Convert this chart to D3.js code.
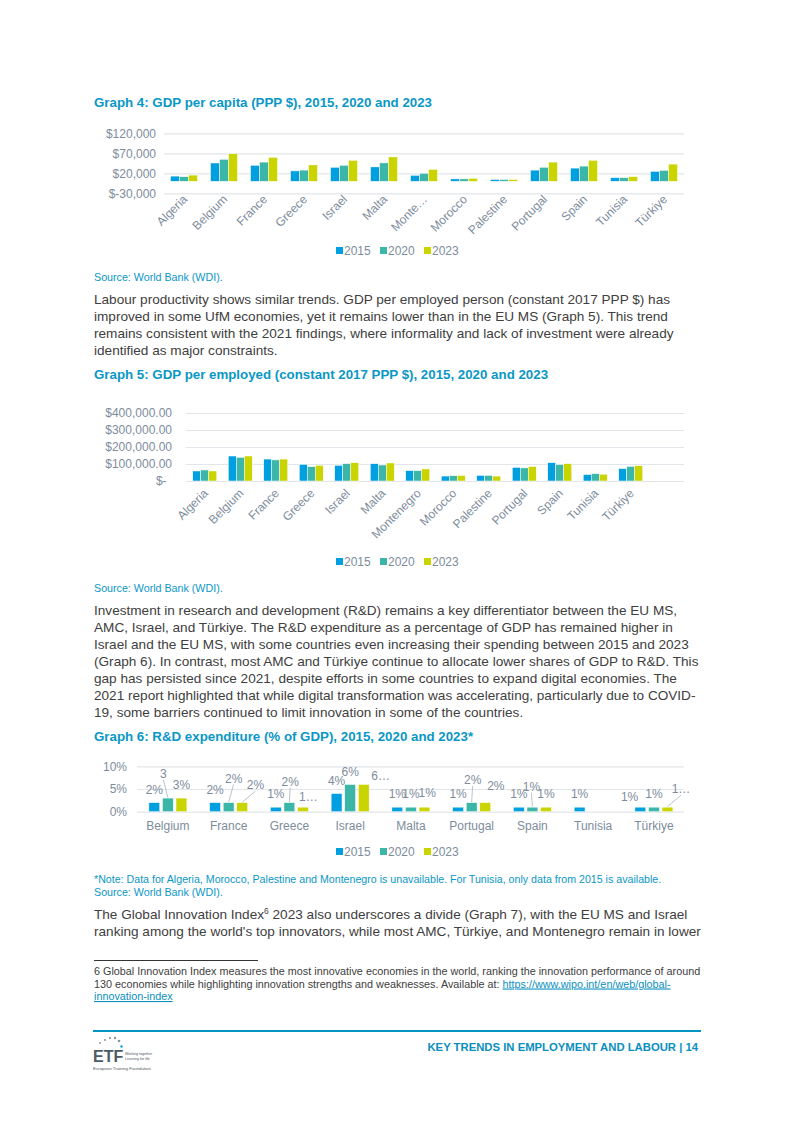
<!DOCTYPE html>
<html>
<head>
<meta charset="utf-8">
<script src="https://cdn.jsdelivr.net/npm/d3@7"></script>
<style>
  body { margin: 0; background: #fff; }
  svg { display: block; font-family: "Liberation Sans", Arial, sans-serif; }
</style>
</head>
<body>
<svg id="page" width="793" height="1121"></svg>
<script>
// ---- data ----
const years = ["2015", "2020", "2023"];
const colors = ["#009fdf", "#3bb6a9", "#c9d400"];

// Graph 4: GDP per capita (PPP $)
const g4Countries = ["Algeria", "Belgium", "France", "Greece", "Israel", "Malta", "Montenegro", "Morocco", "Palestine", "Portugal", "Spain", "Tunisia", "Türkiye"];
const g4Labels = ["Algeria", "Belgium", "France", "Greece", "Israel", "Malta", "Monte…", "Morocco", "Palestine", "Portugal", "Spain", "Tunisia", "Türkiye"];
const gdp2015 = [13000, 45800, 40000, 26000, 35000, 36000, 15000, 6000, 4500, 28000, 33000, 9000, 25000];
const gdp2020 = [11500, 55000, 48000, 28000, 40000, 46000, 20000, 6000, 4500, 35000, 38000, 9000, 27500];
const gdp2023 = [15500, 69000, 60000, 41000, 52500, 61000, 30000, 7500, 4500, 48000, 52500, 11700, 43000];
const g4Ticks = [-30000, 20000, 70000, 120000];

// Graph 5: GDP per employed (constant 2017 PPP $)
const g5Countries = ["Algeria", "Belgium", "France", "Greece", "Israel", "Malta", "Montenegro", "Morocco", "Palestine", "Portugal", "Spain", "Tunisia", "Türkiye"];
const emp2015 = [59000, 147000, 129000, 98000, 92000, 102000, 61000, 29000, 33000, 80000, 108000, 38000, 73000];
const emp2020 = [65000, 139000, 124000, 84000, 102000, 94000, 61000, 31000, 33000, 77000, 97000, 43000, 86000];
const emp2023 = [59000, 147000, 129000, 92000, 108000, 106000, 71000, 33000, 29000, 85000, 102000, 40000, 90000];
const g5Ticks = [0, 100000, 200000, 300000, 400000];

// Graph 6: R&D expenditure (% of GDP)
const rdCountries = ["Belgium", "France", "Greece", "Israel", "Malta", "Portugal", "Spain", "Tunisia", "Türkiye"];
const rd2015 = [2, 2, 1, 4, 1, 1, 1, 1, 1];
const rd2020 = [3, 2, 2, 6, 1, 2, 1, null, 1];
const rd2023 = [3, 2, 1, 6, 1, 2, 1, null, 1];
const rdTicks = [0, 5, 10];

// data label nudges for graph 6 (excel "best fit" placement): country, series, dx, dy, text, leader
const rdLabelMoves = [
  ["Belgium", 1, -4.5, -24.4, "3", true],
  ["France", 1, 5, -24.3, null, true],
  ["France", 2, 13.3, -17.6, null, true],
  ["Greece", 1, 0.8, -21, null, true],
  ["Greece", 2, 5.5, -10, "1…", false],
  ["Israel", 2, 17, -9, "6…", false],
  ["Malta", 2, 2.7, -14, null, false],
  ["Portugal", 1, 1, -22.6, null, true],
  ["Portugal", 2, 10.6, -16.6, null, false],
  ["Spain", 1, -1, -20.5, null, true],
  ["Türkiye", 0, -10.8, -10.5, null, false],
  ["Türkiye", 2, 13.5, -18, "1…", true]
];

// ---- page text ----
const para1 = [
  "Labour productivity shows similar trends. GDP per employed person (constant 2017 PPP $) has",
  "improved in some UfM economies, yet it remains lower than in the EU MS (Graph 5). This trend",
  "remains consistent with the 2021 findings, where informality and lack of investment were already",
  "identified as major constraints."
];
const para2 = [
  "Investment in research and development (R&D) remains a key differentiator between the EU MS,",
  "AMC, Israel, and Türkiye. The R&D expenditure as a percentage of GDP has remained higher in",
  "Israel and the EU MS, with some countries even increasing their spending between 2015 and 2023",
  "(Graph 6). In contrast, most AMC and Türkiye continue to allocate lower shares of GDP to R&D. This",
  "gap has persisted since 2021, despite efforts in some countries to expand digital economies. The",
  "2021 report highlighted that while digital transformation was accelerating, particularly due to COVID-",
  "19, some barriers continued to limit innovation in some of the countries."
];

const svg = d3.select("#page");
const textCol = "#404040";
const blue = "#0a97c6";
const axisCol = "#7d8c9c";
const gridCol = "#e2e6ea";
const bodySize = 13.6;

function line(txt, x, y, size, color, weight) {
  return svg.append("text").attr("x", x).attr("y", y)
    .style("font-size", size + "px").attr("fill", color)
    .style("font-weight", weight || "normal").text(txt);
}

function legend(y) {
  const g = svg.append("g").attr("transform", `translate(336,${y})`);
  years.forEach((yr, i) => {
    const e = g.append("g").attr("transform", `translate(${i * 44},0)`);
    e.append("rect").attr("x", 0).attr("y", -4).attr("width", 7).attr("height", 7).attr("fill", colors[i]);
    e.append("text").attr("x", 8).attr("y", 4).style("font-size", "12px").attr("fill", axisCol).text(yr);
  });
}

// grouped bar chart used by all three graphs
function barChart(o) {
  const x = d3.scaleBand().domain(o.cats).range([o.x0, o.x1]);
  const sub = d3.scaleBand().domain([0, 1, 2]).range([0, o.groupW]).paddingInner(o.inner || 0);
  const y = d3.scaleLinear().domain(o.domain).range([o.yBottom, o.yTop]);

  const ax = svg.append("g").attr("transform", `translate(${o.gridL},0)`)
    .call(d3.axisLeft(y).tickValues(o.ticks).tickSize(-(o.gridR - o.gridL)).tickPadding(o.pad).tickFormat(o.fmt));
  ax.select(".domain").remove();
  ax.selectAll("line").attr("stroke", gridCol).attr("stroke-width", 1.2);
  ax.selectAll("text").attr("fill", axisCol).style("font-size", "12px").style("font-family", "Liberation Sans, Arial, sans-serif");
  if (o.tweak) o.tweak(ax);

  const g = svg.append("g");
  o.series.forEach((vals, s) => {
    g.selectAll(null).data(o.cats.map((c, i) => ({ c, v: vals[i] })).filter(d => d.v != null))
      .enter().append("rect")
      .attr("x", d => x(d.c) + (x.bandwidth() - o.groupW) / 2 + sub(s))
      .attr("width", sub.bandwidth())
      .attr("y", d => y(Math.max(0, d.v)))
      .attr("height", d => Math.abs(y(d.v) - y(0)))
      .attr("fill", colors[s])
      .attr("stroke", "#fff").attr("stroke-width", 0.5);
  });
  return { x, sub, y };
}

// ---- Graph 4 ----
line("Graph 4: GDP per capita (PPP $), 2015, 2020 and 2023", 94, 106.5, 13.3, blue, "bold");
const c4 = barChart({
  cats: g4Countries, series: [gdp2015, gdp2020, gdp2023],
  x0: 164, x1: 684, groupW: 27, gridL: 164, gridR: 684,
  domain: [-30000, 120000], yBottom: 193.3, yTop: 133.3,
  ticks: g4Ticks, pad: 8, fmt: d => d < 0 ? "$-" + d3.format(",")(-d) : "$" + d3.format(",")(d)
});
g4Countries.forEach((c, i) => {
  const cx = c4.x(c) + c4.x.bandwidth() / 2;
  svg.append("text").attr("text-anchor", "end")
    .attr("transform", `translate(${cx + 4},${200}) rotate(-45)`)
    .style("font-size", "12px").attr("fill", axisCol).text(g4Labels[i]);
});
legend(251);
line("Source: World Bank (WDI).", 94, 281, 10.7, blue);
para1.forEach((t, i) => line(t, 94, 304 + i * 17, bodySize, textCol));

// ---- Graph 5 ----
line("Graph 5: GDP per employed (constant 2017 PPP $), 2015, 2020 and 2023", 94, 378.5, 13.3, blue, "bold");
const band5 = (684 - 187) / 14;
const c5 = barChart({
  cats: g5Countries, series: [emp2015, emp2020, emp2023],
  x0: 187, x1: 187 + 13 * band5, groupW: 24, gridL: 186, gridR: 684,
  domain: [0, 400000], yBottom: 481, yTop: 413,
  ticks: g5Ticks, pad: 14, fmt: d => d === 0 ? "$-" : "$" + d3.format(",.2f")(d),
  tweak: ax => ax.selectAll(".tick").filter(d => d === 0).select("text").attr("dx", "-0.45em")
});
g5Countries.forEach(c => {
  const cx = c5.x(c) + c5.x.bandwidth() / 2;
  svg.append("text").attr("text-anchor", "end")
    .attr("transform", `translate(${cx + 4},${494}) rotate(-45)`)
    .style("font-size", "12px").attr("fill", axisCol).text(c);
});
legend(562);
line("Source: World Bank (WDI).", 94, 592, 10.7, blue);
para2.forEach((t, i) => line(t, 94, 615 + i * 17, bodySize, textCol));

// ---- Graph 6 ----
line("Graph 6: R&D expenditure (% of GDP), 2015, 2020 and 2023*", 94, 740.5, 13.3, blue, "bold");
const rdSeries = [rd2015, rd2020, rd2023];
const c6 = barChart({
  cats: rdCountries, series: rdSeries,
  x0: 137.5, x1: 684.3, groupW: 38, inner: 0.2, gridL: 137, gridR: 684,
  domain: [0, 10], yBottom: 811.7, yTop: 766.3,
  ticks: rdTicks, pad: 10, fmt: d => d + "%"
});
rdCountries.forEach(c => {
  const cx = c6.x(c) + c6.x.bandwidth() / 2;
  svg.append("text").attr("text-anchor", "middle").attr("x", cx).attr("y", 830)
    .style("font-size", "12px").attr("fill", axisCol).text(c);
});
const lbl = svg.append("g");
rdSeries.forEach((vals, s) => {
  rdCountries.forEach((c, i) => {
    const v = vals[i];
    if (v == null) return;
    const bx = c6.x(c) + (c6.x.bandwidth() - 38) / 2 + c6.sub(s) + c6.sub.bandwidth() / 2;
    const top = c6.y(v);
    const mv = rdLabelMoves.find(m => m[0] === c && m[1] === s);
    const dx = mv ? mv[2] : 0, dy = mv ? mv[3] : -13;
    const lx = bx + dx, ly = top + dy;
    if (mv && mv[5]) {
      lbl.append("line").attr("x1", lx).attr("y1", ly + 6).attr("x2", bx).attr("y2", top - 0.5)
        .attr("stroke", "#aab4be").attr("stroke-width", 0.8);
    }
    lbl.append("text").attr("x", lx).attr("y", ly + 4.3).attr("text-anchor", "middle")
      .style("font-size", "12px").attr("fill", axisCol)
      .text(mv && mv[4] ? mv[4] : v + "%");
  });
});
legend(852);
line("*Note: Data for Algeria, Morocco, Palestine and Montenegro is unavailable. For Tunisia, only data from 2015 is available.", 94, 882.5, 10.65, blue);
line("Source: World Bank (WDI).", 94, 895.5, 10.7, blue);

const p3 = line("The Global Innovation Index", 94, 919, bodySize, textCol);
p3.append("tspan").attr("dy", -5).style("font-size", "8.5px").text("6");
p3.append("tspan").attr("dy", 5).text(" 2023 also underscores a divide (Graph 7), with the EU MS and Israel");
line("ranking among the world's top innovators, while most AMC, Türkiye, and Montenegro remain in lower", 94, 936, bodySize, textCol);

// footnote
svg.append("line").attr("x1", 94).attr("x2", 258).attr("y1", 960.5).attr("y2", 960.5).attr("stroke", "#000").attr("stroke-width", 0.8);
line("6 Global Innovation Index measures the most innovative economies in the world, ranking the innovation performance of around", 94, 975, 10.8, textCol);
const fn2 = line("130 economies while highlighting innovation strengths and weaknesses. Available at: ", 94, 987.5, 10.8, textCol);
fn2.append("tspan").attr("fill", "#0a8fc0").style("text-decoration", "underline").text("https://www.wipo.int/en/web/global-");
line("innovation-index", 94, 1000, 10.8, "#0a8fc0").style("text-decoration", "underline");

// footer
svg.append("line").attr("x1", 93).attr("x2", 701).attr("y1", 1031).attr("y2", 1031).attr("stroke", "#0095c2").attr("stroke-width", 2);
line("KEY TRENDS IN EMPLOYMENT AND LABOUR | 14", 698, 1051, 11.3, "#0a8fc0", "bold").attr("text-anchor", "end");

// ETF logo
const logo = svg.append("g");
[[100, 1043, 0.9], [105, 1040, 1], [110, 1038, 1.1], [115, 1038, 1.2], [119, 1041, 1.3]].forEach(p => {
  logo.append("circle").attr("cx", p[0]).attr("cy", p[1]).attr("r", p[2]).attr("fill", "#8a949c");
});
logo.append("circle").attr("cx", 121.5).attr("cy", 1046.5).attr("r", 1.2).attr("fill", "#0aa0d8");
logo.append("text").attr("x", 93).attr("y", 1062).style("font-size", "16px").style("font-weight", "bold")
  .attr("fill", "#4d5a63").text("ETF");
logo.append("text").attr("x", 125).attr("y", 1055).style("font-size", "3.6px").attr("fill", "#4d5a63").text("Working together");
logo.append("text").attr("x", 125).attr("y", 1059.5).style("font-size", "3.6px").attr("fill", "#4d5a63").text("Learning for life");
logo.append("text").attr("x", 93).attr("y", 1069.5).style("font-size", "4.3px").attr("fill", "#4d5a63").text("European Training Foundation");
</script>
</body>
</html>
